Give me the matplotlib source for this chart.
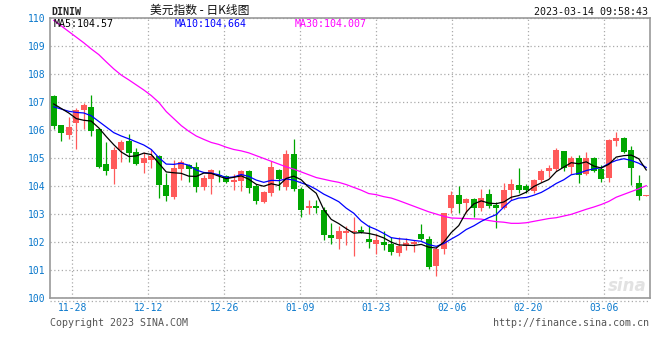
import matplotlib
matplotlib.use("Agg")
import matplotlib.pyplot as plt
from matplotlib.lines import Line2D
import numpy as np

# ---------------- data ----------------
opens = [107.20, 106.16, 105.82, 106.25, 106.70, 106.80, 106.02, 104.79, 104.61, 105.29,
         105.60, 105.22, 104.81, 104.93, 105.05, 104.05, 103.61, 104.59, 104.73, 104.67,
         103.95, 104.25, 104.39, 104.34, 104.15, 104.19, 104.54, 103.99, 103.44, 103.75,
         104.57, 103.95, 105.14, 103.89, 103.21, 103.30, 103.16, 102.27, 102.12, 102.34,
         102.36, 102.45, 102.12, 101.93, 102.02, 101.95, 101.63, 101.87, 101.94, 102.28,
         102.11, 101.16, 101.75, 103.21, 103.69, 103.41, 103.52, 103.21, 103.70, 103.31,
         103.23, 103.85, 104.05, 103.99, 103.82, 104.20, 104.52, 104.61, 105.24, 104.67,
         104.99, 104.44, 105.00, 104.61, 104.28, 105.61, 105.71, 105.28, 104.12, 103.65]
highs = [107.25, 106.16, 106.44, 106.79, 106.97, 107.24, 106.08, 105.55, 105.38, 105.64,
         105.85, 105.34, 105.20, 105.32, 105.11, 104.46, 104.91, 104.91, 104.79, 104.85,
         104.38, 104.60, 104.57, 104.39, 104.43, 104.58, 104.57, 104.07, 103.83, 104.88,
         104.60, 105.28, 105.67, 103.95, 103.50, 103.50, 103.25, 102.69, 102.59, 102.59,
         102.91, 102.57, 102.60, 102.28, 102.40, 102.18, 102.20, 102.13, 102.07, 102.64,
         102.23, 101.84, 103.03, 103.83, 103.99, 103.57, 103.58, 103.88, 103.88, 103.44,
         104.12, 104.26, 104.64, 104.08, 104.26, 104.61, 104.73, 105.34, 105.26, 105.05,
         105.11, 105.20, 105.02, 104.73, 105.69, 105.93, 105.75, 105.44, 104.40, 103.68]
lows = [106.02, 105.61, 105.66, 105.32, 106.02, 105.77, 104.64, 104.38, 104.08, 104.87,
        104.87, 104.75, 104.46, 104.64, 103.58, 103.46, 103.55, 104.20, 104.14, 103.79,
        103.85, 103.72, 104.13, 104.12, 103.87, 103.83, 103.75, 103.36, 103.40, 103.63,
        103.87, 103.87, 103.83, 102.89, 103.00, 103.04, 102.06, 101.94, 101.74, 101.91,
        101.50, 102.33, 101.80, 101.58, 101.72, 101.55, 101.52, 101.71, 101.65, 102.06,
        101.05, 100.80, 101.56, 103.03, 103.03, 103.03, 102.90, 103.10, 103.23, 102.52,
        103.18, 103.50, 103.76, 103.76, 103.76, 104.14, 104.32, 104.55, 104.55, 104.41,
        104.11, 104.38, 104.49, 104.14, 104.14, 105.44, 105.18, 104.02, 103.49, 103.63]
closes = [106.14, 105.87, 106.09, 106.72, 106.90, 105.96, 104.69, 104.52, 105.29, 105.58,
          105.19, 104.79, 104.98, 105.08, 104.02, 103.64, 104.64, 104.85, 104.59, 103.96,
          104.28, 104.57, 104.34, 104.15, 104.22, 104.54, 103.93, 103.48, 103.80, 104.66,
          104.25, 105.14, 103.89, 103.16, 103.30, 103.21, 102.24, 102.15, 102.38, 102.41,
          102.40, 102.37, 102.01, 102.06, 101.90, 101.64, 101.87, 101.97, 102.01, 102.11,
          101.13, 101.75, 103.02, 103.69, 103.36, 103.54, 103.20, 103.57, 103.30, 103.22,
          103.87, 104.06, 103.86, 103.87, 104.22, 104.55, 104.65, 105.28, 104.65, 105.00,
          104.38, 104.99, 104.55, 104.26, 105.65, 105.71, 105.22, 104.65, 103.64, 103.66]

ma5 = [106.92, 106.76, 106.60, 106.40, 106.34, 106.31, 106.07, 105.76, 105.47, 105.21,
       105.05, 105.07, 105.17, 105.12, 104.81, 104.50, 104.47, 104.45, 104.35, 104.34,
       104.46, 104.45, 104.35, 104.26, 104.31, 104.36, 104.24, 104.06, 103.99, 104.08,
       104.02, 104.27, 104.35, 104.22, 103.95, 103.74, 103.16, 102.81, 102.66, 102.48,
       102.32, 102.34, 102.31, 102.25, 102.15, 102.00, 101.90, 101.89, 101.88, 101.92,
       101.82, 101.79, 102.00, 102.34, 102.59, 103.07, 103.36, 103.47, 103.39, 103.37,
       103.43, 103.60, 103.66, 103.78, 103.98, 104.11, 104.23, 104.51, 104.67, 104.83,
       104.79, 104.86, 104.71, 104.64, 104.77, 105.03, 105.08, 105.10, 104.97, 104.57]
ma10 = [106.82, 106.74, 106.66, 106.62, 106.60, 106.50, 106.30, 106.10, 105.90, 105.78,
        105.68, 105.57, 105.46, 105.30, 105.01, 104.78, 104.77, 104.81, 104.74, 104.57,
        104.48, 104.46, 104.40, 104.30, 104.32, 104.41, 104.34, 104.21, 104.13, 104.20,
        104.19, 104.25, 104.21, 104.11, 104.02, 103.88, 103.71, 103.58, 103.44, 103.21,
        103.03, 102.75, 102.56, 102.45, 102.31, 102.16, 102.12, 102.10, 102.06, 102.03,
        101.91, 101.85, 101.95, 102.11, 102.26, 102.45, 102.58, 102.74, 102.87, 102.98,
        103.25, 103.48, 103.57, 103.59, 103.67, 103.77, 103.92, 104.09, 104.22, 104.40,
        104.45, 104.55, 104.61, 104.65, 104.80, 104.91, 104.97, 104.91, 104.81, 104.66]
ma30 = [109.90, 109.70, 109.50, 109.30, 109.10, 108.88, 108.68, 108.42, 108.17, 107.95,
        107.78, 107.60, 107.42, 107.22, 106.98, 106.65, 106.40, 106.15, 105.95, 105.78,
        105.66, 105.55, 105.48, 105.38, 105.30, 105.25, 105.18, 105.08, 104.98, 104.88,
        104.78, 104.68, 104.60, 104.50, 104.40, 104.30, 104.24, 104.18, 104.13, 104.05,
        103.95, 103.85, 103.73, 103.69, 103.62, 103.57, 103.48, 103.38, 103.28, 103.18,
        103.08, 103.00, 102.92, 102.86, 102.85, 102.84, 102.83, 102.82, 102.77, 102.73,
        102.71, 102.67, 102.67, 102.69, 102.74, 102.79, 102.84, 102.87, 102.93, 102.99,
        103.08, 103.17, 103.25, 103.34, 103.45, 103.60, 103.70, 103.80, 103.90, 104.01]

date_labels = ["11-28", "12-12", "12-26", "01-09", "01-23", "02-06", "02-20", "03-06"]
y_ticks = [100, 101, 102, 103, 104, 105, 106, 107, 108, 109, 110]
legend_vals = {"MA5": "104.57", "MA10": "104.664", "MA30": "104.007"}
title_text = "美元指数 - 日K线图"
symbol = "DINIW"
timestamp = "2023-03-14 09:58:43"

# ---------------- style ----------------
W, H = 660, 360
RED = "#ff5a5a"
GREEN = "#00a600"
BLUE_TXT = "#0a78cc"
GRID = "#aaaaaa"
MONO = "DejaVu Sans Mono"

fig = plt.figure(figsize=(W / 100, H / 100), dpi=100)
fig.patch.set_facecolor("white")

def fx(px):
    return px / W

def fy(py):
    return 1 - py / H

ax_left, ax_right, ax_top, ax_bot = 50, 650, 17.5, 298.3
ax = fig.add_axes([fx(ax_left), fy(ax_bot), fx(ax_right - ax_left), (ax_bot - ax_top) / H])

n = len(closes)
x = np.arange(n)
ax.set_xlim(-0.5, n - 0.5)
ax.set_ylim(100, 110)

# grid
tick_pos = [2.47, 12.6, 22.73, 32.87, 43.0, 53.13, 63.27, 73.4]
ax.set_xticks(tick_pos)
ax.set_xticklabels(date_labels)
ax.set_yticks(y_ticks)
ax.set_yticklabels([str(v) for v in y_ticks])
ax.grid(True, color=GRID, linestyle=(0, (1, 2)), linewidth=0.9)
ax.set_axisbelow(True)
ax.tick_params(length=0, labelsize=7.0, labelcolor=BLUE_TXT, pad=3.5)
for lab in ax.get_xticklabels() + ax.get_yticklabels():
    lab.set_fontfamily(MONO)
for s in ax.spines.values():
    s.set_color("#999999")
    s.set_linewidth(1.2)

# candles
o = np.array(opens); c = np.array(closes); h = np.array(highs); l = np.array(lows)
up = c >= o
cols = np.where(up, RED, GREEN)
ax.vlines(x, l, h, colors=cols, linewidth=0.9, zorder=2)
bottoms = np.minimum(o, c)
heights = np.maximum(np.abs(c - o), 0.035)
ax.bar(x, heights, bottom=bottoms, width=0.8, color=cols, linewidth=0, zorder=3)

# moving averages
ax.plot(x, ma30, color="#ff00ff", linewidth=0.9, zorder=4)
ax.plot(x, ma10, color="#0000ff", linewidth=0.9, zorder=5)
ax.plot(x, ma5, color="#000000", linewidth=0.9, zorder=6)

# watermark
ax.text(0.995, 0.012, "sina", transform=ax.transAxes, ha="right", va="bottom",
        fontsize=12, fontstyle="italic", fontweight="bold", color="#e2e2e2", zorder=1)

# dotted line below the plot
fig.add_artist(Line2D([fx(50), fx(650)], [fy(300.6), fy(300.6)], color=GRID,
                      linestyle=(0, (1, 2)), linewidth=0.9))

# header texts
fig.text(fx(51), fy(12), symbol, fontsize=7.2, family=MONO, fontweight="bold",
         color="#222222", ha="left", va="center")
fig.text(fx(200), fy(10.5), title_text, fontsize=8.5,
         family=["Noto Sans CJK SC", "DejaVu Sans"], color="#111111",
         ha="center", va="center")
fig.text(fx(648.5), fy(12), timestamp, fontsize=7.2, family=MONO,
         color="#111111", ha="right", va="center")

# legend texts
fig.text(fx(54), fy(24), "MA5:" + legend_vals["MA5"], fontsize=7.2, family=MONO,
         color="#000000", ha="left", va="center")
fig.text(fx(174.5), fy(24), "MA10:" + legend_vals["MA10"], fontsize=7.2, family=MONO,
         color="#0000ff", ha="left", va="center")
fig.text(fx(295), fy(24), "MA30:" + legend_vals["MA30"], fontsize=7.2, family=MONO,
         color="#ff00ff", ha="left", va="center")

# footer texts
fig.text(fx(50), fy(323.5), "Copyright 2023 SINA.COM", fontsize=7.2, family=MONO,
         color="#555555", ha="left", va="center")
fig.text(fx(649), fy(323.5), "http://finance.sina.com.cn", fontsize=7.2, family=MONO,
         color="#555555", ha="right", va="center")

fig.savefig("out.png", dpi=100, facecolor="white")
